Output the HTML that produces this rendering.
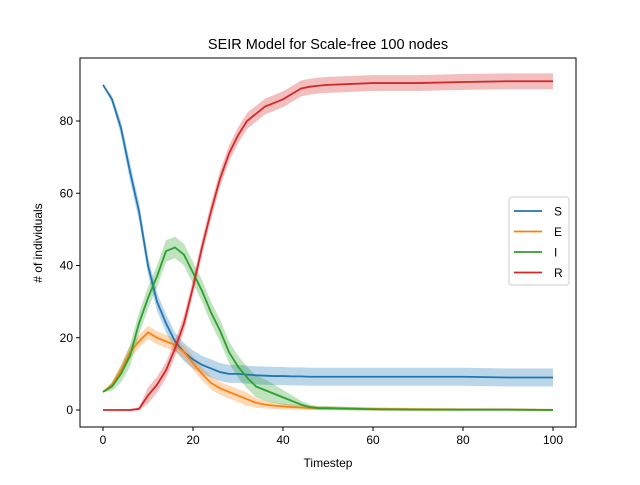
<!DOCTYPE html>
<html><head><meta charset="utf-8"><style>
body{margin:0;background:#fff;}
svg{font-family:"Liberation Sans","DejaVu Sans",sans-serif;}
</style></head><body>
<svg id="c" width="640" height="480"></svg>
<script>
const timesteps=[0,2,4,6,8,10,12,14,16,18,20,22,24,26,28,30,32,34,36,38,40,42,44,46,48,50,60,70,80,90,100];
const sVals=[90,86,78,66,55,40,30,24,19,16,14,12.5,11.5,10.5,10,10,9.8,9.6,9.5,9.4,9.4,9.3,9.3,9.2,9.2,9.2,9.2,9.2,9.2,9,9];
const eVals=[5,7,11,16,19,21.5,20,19,18,16,13,10,7.5,6,5,4,3,2,1.5,1.2,1,0.8,0.7,0.6,0.5,0.5,0.3,0.2,0.1,0.1,0];
const iVals=[5,6.5,10,15,24,31,37,44,45,43,38,33,27,22,16,12,9,6.5,5.5,4.5,3.5,2.5,1.5,0.8,0.5,0.5,0.2,0.1,0.1,0.1,0];
const rVals=[0,0,0,0,0.3,4,7,11,17,24,34,45,55,64,71,76,80,82,84,85,86,87.5,89,89.5,89.8,90,90.5,90.5,90.8,91,91];
const xTicks=[0,20,40,60,80,100];
const yTicks=[0,20,40,60,80];
const seriesNames=["S","E","I","R"];
const bandWidths=[2.5,1.8,3,2.2];
const colors=["#1f77b4","#ff7f0e","#2ca02c","#d62728"];
const L=80,R=576,T=58,B=427;
const X=v=>103+v*4.5, Y=v=>410-v*3.6125;
const svg=document.getElementById('c');const NS="http://www.w3.org/2000/svg";
function mk(t,a,p){const e=document.createElementNS(NS,t);for(const k in a)e.setAttribute(k,a[k]);(p||svg).appendChild(e);return e;}
const title=mk('text',{x:328,y:49,'text-anchor':'middle','font-size':14.5});title.textContent="SEIR Model for Scale-free 100 nodes";


const all=[sVals,eVals,iVals,rVals];
all.forEach((vals,si)=>{
  const bw=bandWidths[si];
  const w=(v,i)=>Math.min(bw,v*0.5+0.3)*Math.min(1,timesteps[i]/5);
  const up=vals.map((v,i)=>X(timesteps[i])+','+Y(v+w(v,i)));
  const lo=vals.map((v,i)=>X(timesteps[i])+','+Y(v-w(v,i))).reverse();
  const band=mk('polygon',{points:up.concat(lo).join(' '),fill:colors[si],'fill-opacity':0.3,stroke:'none'});
  
  
});
all.forEach((vals,si)=>{
  const line=mk('polyline',{points:vals.map((v,i)=>X(timesteps[i])+','+Y(v)).join(' '),fill:'none',stroke:colors[si],'stroke-width':1.8,'stroke-linejoin':'round'});
  
  
});
const fr=mk('rect',{x:L,y:T,width:R-L,height:B-T,fill:'none',stroke:'#000','stroke-width':1});


xTicks.forEach(t=>{mk('line',{x1:X(t),x2:X(t),y1:B,y2:B+4,stroke:'#000'});
  const tx=mk('text',{x:X(t),y:B+17,'text-anchor':'middle','font-size':12});tx.textContent=t;
  
  });
yTicks.forEach(t=>{mk('line',{x1:L-4,x2:L,y1:Y(t),y2:Y(t),stroke:'#000'});
  const tx=mk('text',{x:L-7,y:Y(t)+4,'text-anchor':'end','font-size':12});tx.textContent=t;
  
  });
const xl=mk('text',{x:328,y:467,'text-anchor':'middle','font-size':12});xl.textContent="Timestep";


const yl=mk('text',{x:42,y:243,'text-anchor':'middle','font-size':12,transform:'rotate(-90 42 243)'});yl.textContent="# of individuals";


const lg=mk('g',{});


mk('rect',{x:509,y:197,width:60,height:88,rx:3,fill:'#fff','fill-opacity':0.8,stroke:'#ccc'},lg);
seriesNames.forEach((n,i)=>{const y=211+i*20.5;
  mk('line',{x1:514,x2:542,y1:y,y2:y,stroke:colors[i],'stroke-width':1.8},lg);
  const t=mk('text',{x:554,y:y+4.5,'font-size':12},lg);t.textContent=n;
  
  });
</script>
</body></html>
